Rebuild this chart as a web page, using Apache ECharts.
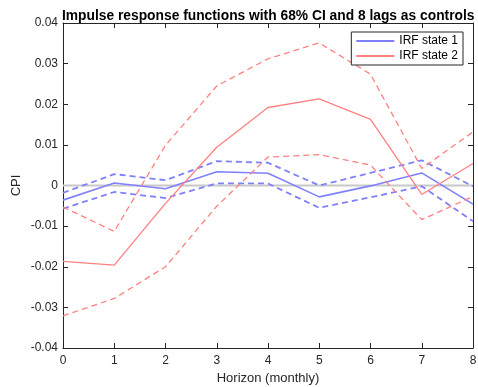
<!DOCTYPE html>
<html>
<head>
<meta charset="utf-8">
<script src="https://cdn.jsdelivr.net/npm/echarts@6/dist/echarts.min.js"></script>
<style>
  html, body { margin: 0; padding: 0; background: #fff; }
  #chart { width: 478px; height: 387px; }
</style>
</head>
<body>
<div id="chart"></div>
<script>
const horizon = [0, 1, 2, 3, 4, 5, 6, 7, 8];

// state 1 (blue)
const irf1 = [-0.0036, 0.0006, -0.0008, 0.0034, 0.0030, -0.0028, -0.0001, 0.0031, -0.0046];
const irf1Upper = [-0.0018, 0.0028, 0.0013, 0.0060, 0.0056, 0.0000, 0.0031, 0.0062, -0.0002];
const irf1Lower = [-0.0057, -0.0016, -0.0031, 0.0005, 0.0005, -0.0055, -0.0029, -0.0002, -0.0088];

// state 2 (red)
const irf2 = [-0.0187, -0.0196, -0.0044, 0.0094, 0.0192, 0.0213, 0.0163, -0.0022, 0.0054];
const irf2Upper = [-0.0053, -0.0113, 0.0099, 0.0245, 0.0312, 0.0351, 0.0274, 0.0042, 0.0132];
const irf2Lower = [-0.0321, -0.0278, -0.0200, -0.0051, 0.0070, 0.0076, 0.0050, -0.0084, -0.0027];

const blue = "#8080ff";
const red = "#ff8080";
const font = "Liberation Sans, Arial, sans-serif";

const pairs = (ys) => horizon.map((x, i) => [x, ys[i]]);

function line(name, ys, color, dashed, width) {
  return {
    name,
    type: "line",
    data: pairs(ys),
    showSymbol: false,
    symbol: "none",
    silent: true,
    lineStyle: { color, width, type: dashed ? [6, 4] : "solid" },
    itemStyle: { color },
  };
}

const chart = echarts.init(document.getElementById("chart"), null, { renderer: "canvas" });

const tickStyle = { show: true, inside: true, length: 5, lineStyle: { color: "#262626", width: 1 } };
const axisLine = { show: true, onZero: false, lineStyle: { color: "#262626", width: 1 } };
const labelStyle = { color: "#262626", fontSize: 12, fontFamily: font };

chart.setOption({
  animation: false,
  title: {
    text: "Impulse response functions with 68% CI and 8 lags as controls",
    left: 57,
    top: 4,
    textStyle: { fontSize: 13.8, fontWeight: "bold", color: "#000", fontFamily: font },
  },
  legend: {
    data: ["IRF state 1", "IRF state 2"],
    orient: "vertical",
    right: 15,
    top: 32,
    itemWidth: 38,
    itemHeight: 2,
    itemGap: 3,
    padding: [3, 5, 3, 5],
    borderColor: "#262626",
    borderWidth: 1,
    borderRadius: 0,
    backgroundColor: "#fff",
    icon: "rect",
    textStyle: { color: "#000", fontSize: 12, fontFamily: font },
  },
  grid: { left: 63, right: 5, top: 23, bottom: 39, outerBoundsMode: "none" },
  xAxis: [
    {
      type: "value",
      min: 0,
      max: 8,
      interval: 1,
      name: "Horizon (monthly)",
      nameLocation: "middle",
      nameGap: 24,
      nameMoveOverlap: false,
      nameTextStyle: { color: "#262626", fontSize: 13, fontFamily: font },
      axisLine,
      axisTick: tickStyle,
      axisLabel: { ...labelStyle, margin: 7 },
      splitLine: { show: false },
    },
    {
      type: "value",
      position: "top",
      min: 0,
      max: 8,
      interval: 1,
      axisLine,
      axisTick: tickStyle,
      axisLabel: { show: false },
      splitLine: { show: false },
    },
  ],
  yAxis: [
    {
      type: "value",
      min: -0.04,
      max: 0.04,
      interval: 0.01,
      name: "CPI",
      nameLocation: "middle",
      nameGap: 40,
      nameMoveOverlap: false,
      nameTextStyle: { color: "#262626", fontSize: 13, fontFamily: font },
      axisLine,
      axisTick: tickStyle,
      axisLabel: {
        ...labelStyle,
        margin: 5,
        formatter: (v) => (Math.abs(v) < 1e-9 ? "0" : v.toFixed(2)),
      },
      splitLine: { show: false },
    },
    {
      type: "value",
      position: "right",
      min: -0.04,
      max: 0.04,
      interval: 0.01,
      axisLine,
      axisTick: tickStyle,
      axisLabel: { show: false },
      splitLine: { show: false },
    },
  ],
  series: [
    {
      name: "zero",
      type: "line",
      data: [[0, 0], [8, 0]],
      showSymbol: false,
      silent: true,
      lineStyle: { color: "#c8c8c8", width: 2 },
      z: 1,
    },
    line("IRF state 1", irf1, blue, false, 1.6),
    line("state 1 upper", irf1Upper, blue, true, 1.8),
    line("state 1 lower", irf1Lower, blue, true, 1.8),
    line("IRF state 2", irf2, red, false, 1.3),
    line("state 2 upper", irf2Upper, red, true, 1.3),
    line("state 2 lower", irf2Lower, red, true, 1.3),
  ],
});
</script>
</body>
</html>
